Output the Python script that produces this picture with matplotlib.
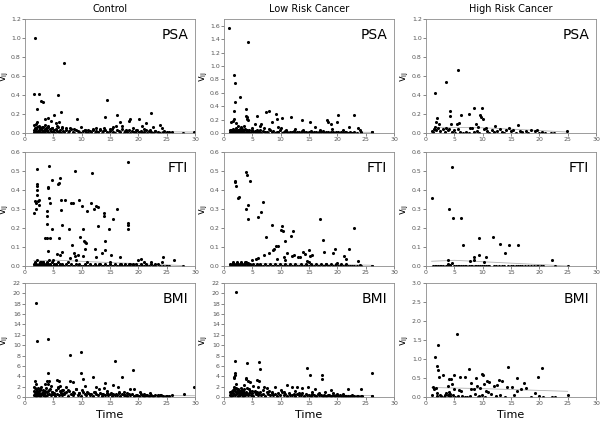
import numpy as np
import matplotlib
matplotlib.use("Agg")
import matplotlib.pyplot as plt

# visit times shared by the dense low band of each group
t_ctrl = [1.5, 1.6, 1.7, 1.8, 1.9, 2.0, 2.1, 2.2, 2.3, 2.4,
          2.5, 2.6, 2.7, 2.8, 2.9, 3.0, 3.1, 3.2, 3.4, 3.5,
          3.6, 3.7, 3.8, 3.9, 4.0, 4.1, 4.2, 4.4, 4.5, 4.7,
          4.9, 5.1, 5.3, 5.5, 5.7, 5.9, 6.0, 6.1, 6.3, 6.5,
          6.7, 6.9, 7.2, 7.5, 7.8, 8.1, 8.4, 8.7, 9.0, 9.3,
          9.6, 9.9, 10.2, 10.5, 10.8, 11.1, 11.4, 11.7, 12.0, 12.3,
          12.6, 12.9, 13.2, 13.5, 13.8, 14.1, 14.4, 14.7, 15.0, 15.3,
          15.6, 15.9, 16.2, 16.5, 16.8, 17.1, 17.4, 17.7, 18.0, 18.3,
          18.6, 18.9, 19.2, 19.5, 19.8, 20.1, 20.4, 20.7, 21.0, 21.3,
          21.6, 21.9, 22.2, 22.6, 23.0, 23.4, 23.8, 24.3, 24.8, 25.4]

ctrl_psa_band = [0.01, 0.03, 0.00, 0.05, 0.02, 0.04, 0.01, 0.06, 0.00, 0.03,
                 0.02, 0.05, 0.01, 0.04, 0.00, 0.03, 0.06, 0.01, 0.02, 0.04,
                 0.00, 0.05, 0.02, 0.03, 0.01, 0.07, 0.00, 0.04, 0.02, 0.05,
                 0.01, 0.03, 0.00, 0.04, 0.02, 0.06, 0.01, 0.03, 0.00, 0.05,
                 0.02, 0.01, 0.03, 0.00, 0.02, 0.04, 0.01, 0.00, 0.03, 0.02,
                 0.01, 0.00, 0.02, 0.03, 0.01, 0.00, 0.02, 0.01, 0.03, 0.00,
                 0.02, 0.01, 0.04, 0.00, 0.02, 0.03, 0.01, 0.00, 0.02, 0.04,
                 0.01, 0.00, 0.03, 0.02, 0.01, 0.04, 0.00, 0.02, 0.01, 0.03,
                 0.00, 0.02, 0.01, 0.00, 0.03, 0.01, 0.02, 0.00, 0.01, 0.03,
                 0.00, 0.02, 0.01, 0.00, 0.02, 0.01, 0.00, 0.01, 0.00, 0.01]

ctrl_fti_band = [0.00, 0.01, 0.00, 0.02, 0.00, 0.01, 0.00, 0.03, 0.00, 0.01,
                 0.00, 0.02, 0.00, 0.01, 0.00, 0.01, 0.02, 0.00, 0.01, 0.00,
                 0.00, 0.01, 0.00, 0.02, 0.00, 0.01, 0.00, 0.01, 0.00, 0.02,
                 0.00, 0.01, 0.00, 0.01, 0.00, 0.02, 0.00, 0.01, 0.00, 0.01,
                 0.00, 0.00, 0.01, 0.00, 0.00, 0.01, 0.00, 0.00, 0.01, 0.00,
                 0.01, 0.00, 0.00, 0.01, 0.00, 0.00, 0.01, 0.00, 0.00, 0.01,
                 0.00, 0.00, 0.01, 0.00, 0.00, 0.01, 0.00, 0.00, 0.01, 0.00,
                 0.00, 0.01, 0.00, 0.00, 0.01, 0.00, 0.00, 0.01, 0.00, 0.00,
                 0.01, 0.00, 0.00, 0.01, 0.00, 0.00, 0.01, 0.00, 0.00, 0.01,
                 0.00, 0.00, 0.01, 0.00, 0.00, 0.01, 0.00, 0.00, 0.00, 0.00]

ctrl_bmi_band = [0.3, 1.2, 0.6, 1.8, 0.2, 1.5, 0.9, 1.1, 0.4, 1.6,
                 0.7, 0.2, 1.3, 0.5, 1.9, 0.8, 0.3, 1.4, 0.6, 1.0,
                 0.2, 1.7, 0.9, 0.4, 2.5, 1.2, 0.6, 1.5, 0.3, 1.0,
                 0.5, 0.8, 0.2, 1.3, 0.6, 1.9, 0.4, 1.1, 0.7, 0.3,
                 1.4, 0.5, 0.9, 0.2, 1.2, 0.6, 0.3, 0.8, 1.5, 0.4,
                 0.7, 0.2, 1.0, 0.5, 0.3, 0.8, 0.4, 0.6, 0.2, 0.9,
                 0.5, 0.3, 0.7, 0.2, 0.6, 0.4, 0.8, 0.3, 0.5, 0.2,
                 0.6, 0.4, 0.3, 0.7, 0.2, 0.5, 0.3, 0.4, 0.2, 0.6,
                 0.3, 0.5, 0.2, 0.4, 0.3, 0.2, 0.5, 0.3, 0.2, 0.4,
                 0.3, 0.2, 0.3, 0.2, 0.4, 0.2, 0.3, 0.2, 0.1, 0.2]

t_low = [1.0, 1.1, 1.2, 1.3, 1.4, 1.5, 1.6, 1.7, 1.8, 1.9,
         2.0, 2.1, 2.2, 2.3, 2.4, 2.5, 2.6, 2.7, 2.8, 2.9,
         3.0, 3.1, 3.2, 3.3, 3.5, 3.6, 3.7, 3.8, 4.0, 4.1,
         4.2, 4.4, 4.6, 4.8, 5.0, 5.2, 5.4, 5.6, 5.8, 6.0,
         6.2, 6.4, 6.6, 6.9, 7.2, 7.5, 7.8, 8.1, 8.4, 8.7,
         9.0, 9.3, 9.6, 9.9, 10.2, 10.5, 10.8, 11.1, 11.4, 11.7,
         12.0, 12.3, 12.6, 12.9, 13.2, 13.5, 13.8, 14.1, 14.4, 14.7,
         15.0, 15.3, 15.6, 15.9, 16.2, 16.5, 16.8, 17.1, 17.4, 17.7,
         18.0, 18.3, 18.6, 18.9, 19.2, 19.5, 19.8, 20.1, 20.4, 20.7,
         21.0, 21.3, 21.6, 21.9, 22.2, 22.6, 23.0, 23.5, 24.1, 26.1]

low_psa_band = [0.02, 0.05, 0.01, 0.04, 0.00, 0.06, 0.03, 0.01, 0.05, 0.02,
                0.00, 0.04, 0.07, 0.01, 0.03, 0.05, 0.00, 0.02, 0.06, 0.01,
                0.04, 0.00, 0.03, 0.05, 0.01, 0.02, 0.06, 0.00, 0.04, 0.03,
                0.01, 0.05, 0.00, 0.02, 0.04, 0.01, 0.03, 0.00, 0.05, 0.02,
                0.01, 0.04, 0.00, 0.03, 0.01, 0.02, 0.00, 0.04, 0.01, 0.03,
                0.00, 0.02, 0.01, 0.04, 0.00, 0.02, 0.03, 0.01, 0.00, 0.02,
                0.01, 0.03, 0.00, 0.02, 0.01, 0.00, 0.03, 0.01, 0.02, 0.00,
                0.01, 0.03, 0.00, 0.02, 0.01, 0.00, 0.02, 0.01, 0.03, 0.00,
                0.02, 0.01, 0.00, 0.02, 0.01, 0.00, 0.01, 0.02, 0.00, 0.01,
                0.00, 0.02, 0.01, 0.00, 0.01, 0.00, 0.01, 0.00, 0.00, 0.01]

low_fti_band = [0.00, 0.01, 0.00, 0.00, 0.01, 0.00, 0.02, 0.00, 0.01, 0.00,
                0.00, 0.01, 0.00, 0.02, 0.00, 0.01, 0.00, 0.00, 0.01, 0.00,
                0.02, 0.00, 0.01, 0.00, 0.00, 0.01, 0.00, 0.02, 0.00, 0.01,
                0.00, 0.00, 0.01, 0.00, 0.00, 0.01, 0.00, 0.00, 0.01, 0.00,
                0.00, 0.01, 0.00, 0.00, 0.01, 0.00, 0.00, 0.01, 0.00, 0.00,
                0.01, 0.00, 0.00, 0.01, 0.00, 0.00, 0.01, 0.00, 0.00, 0.01,
                0.00, 0.00, 0.01, 0.00, 0.00, 0.01, 0.00, 0.00, 0.01, 0.00,
                0.00, 0.01, 0.00, 0.00, 0.01, 0.00, 0.00, 0.01, 0.00, 0.00,
                0.01, 0.00, 0.00, 0.01, 0.00, 0.00, 0.01, 0.00, 0.00, 0.01,
                0.00, 0.00, 0.01, 0.00, 0.00, 0.00, 0.00, 0.00, 0.00, 0.00]

low_bmi_band = [0.4, 0.9, 0.2, 0.7, 1.2, 0.3, 0.8, 1.6, 0.5, 1.1,
                0.3, 1.8, 0.6, 1.0, 0.2, 1.4, 0.7, 0.4, 1.2, 0.3,
                0.9, 0.5, 1.3, 0.2, 0.8, 1.5, 0.4, 1.0, 0.6, 1.7,
                0.3, 0.8, 1.2, 0.4, 0.7, 0.2, 1.1, 0.5, 0.9, 0.3,
                0.7, 1.0, 0.4, 0.6, 0.2, 0.9, 0.5, 0.3, 0.8, 0.4,
                0.6, 0.2, 0.7, 0.4, 0.9, 0.3, 0.5, 0.2, 0.7, 0.4,
                0.3, 0.6, 0.2, 0.5, 0.4, 0.3, 0.7, 0.2, 0.5, 0.3,
                0.4, 0.2, 0.6, 0.3, 0.2, 0.5, 0.3, 0.4, 0.2, 0.3,
                0.2, 0.4, 0.3, 0.2, 0.3, 0.2, 0.4, 0.2, 0.3, 0.2,
                0.1, 0.2, 0.1, 0.2, 0.1, 0.1, 0.2, 0.1, 0.1, 0.1]

# points standing clear of the band (time, value)
ctrl_psa_pts = [(1.8, 1.0), (6.8, 0.74), (1.5, 0.41), (2.5, 0.41), (5.8, 0.40), (2.8, 0.34),
                (3.2, 0.33), (14.5, 0.35), (2.2, 0.25), (6.3, 0.22), (22.2, 0.21), (16.3, 0.19),
                (5.2, 0.19), (4.1, 0.16), (3.6, 0.15), (14.1, 0.17), (9.2, 0.15), (18.6, 0.15),
                (18.3, 0.13), (20.2, 0.15), (21.4, 0.11), (16.8, 0.12), (2.1, 0.12), (4.5, 0.13),
                (5.4, 0.11), (6.0, 0.12), (23.8, 0.08), (24.1, 0.05), (26.0, 0.01), (27.9, 0.0),
                (29.8, 0.01), (1.6, 0.08), (2.0, 0.09), (2.4, 0.07), (3.0, 0.06), (3.5, 0.08),
                (4.0, 0.06), (4.8, 0.05), (5.6, 0.07), (6.5, 0.06), (7.2, 0.05), (8.0, 0.05),
                (8.6, 0.04), (9.8, 0.06), (10.5, 0.03), (11.2, 0.03), (12.0, 0.04), (12.6, 0.05),
                (13.3, 0.03), (14.0, 0.05), (15.0, 0.04), (15.6, 0.06), (16.0, 0.07), (17.2, 0.07),
                (17.8, 0.03), (19.0, 0.05), (19.5, 0.03), (20.6, 0.07), (21.0, 0.04), (22.0, 0.03),
                (22.5, 0.06), (23.0, 0.02), (24.5, 0.02), (25.0, 0.01)]

ctrl_fti_pts = [(1.5, 0.28), (1.8, 0.34), (1.9, 0.30), (2.0, 0.33), (2.1, 0.40), (2.1, 0.42),
                (2.1, 0.43), (2.2, 0.51), (2.2, 0.375), (2.3, 0.34), (2.5, 0.35), (2.4, 0.32),
                (3.5, 0.15), (3.8, 0.15), (3.9, 0.29), (3.9, 0.265), (3.9, 0.22), (4.0, 0.41),
                (4.1, 0.415), (4.2, 0.525), (4.3, 0.36), (4.4, 0.15), (4.4, 0.33), (4.7, 0.455),
                (4.7, 0.195), (4.0, 0.08), (4.2, 0.03), (5.6, 0.065), (5.9, 0.43), (6.0, 0.435),
                (6.2, 0.465), (6.0, 0.145), (6.3, 0.345), (6.4, 0.295), (6.5, 0.215), (6.6, 0.075),
                (6.2, 0.06), (7.0, 0.35), (7.8, 0.195), (8.0, 0.04), (8.2, 0.33), (8.4, 0.33),
                (8.3, 0.11), (8.6, 0.07), (8.8, 0.5), (8.9, 0.055), (9.3, 0.06), (9.6, 0.345),
                (9.7, 0.155), (10.0, 0.315), (10.3, 0.195), (10.4, 0.13), (10.5, 0.125), (10.8, 0.12),
                (10.5, 0.09), (10.2, 0.055), (11.0, 0.29), (11.8, 0.49), (11.6, 0.33), (12.1, 0.3),
                (12.4, 0.09), (12.5, 0.315), (12.6, 0.05), (12.8, 0.31), (12.9, 0.21), (13.6, 0.07),
                (13.9, 0.265), (14.0, 0.28), (14.2, 0.13), (14.2, 0.085), (14.8, 0.195), (15.5, 0.25),
                (15.2, 0.06), (16.3, 0.3), (16.8, 0.045), (18.1, 0.55), (18.2, 0.225), (18.2, 0.215),
                (18.2, 0.195), (18.3, 0.01), (20.0, 0.03), (20.4, 0.035), (22.3, 0.02), (24.4, 0.045),
                (24.1, 0.02), (26.3, 0.03), (27.9, 0.0), (2.8, 0.02), (3.1, 0.02), (5.0, 0.03),
                (7.5, 0.02), (9.0, 0.03), (11.0, 0.02), (13.0, 0.01), (15.0, 0.02), (17.0, 0.01),
                (19.0, 0.01), (21.0, 0.02), (23.0, 0.01), (25.0, 0.0)]

ctrl_bmi_pts = [(1.9, 18.2), (2.2, 10.9), (4.0, 11.1), (7.9, 8.2), (9.9, 8.6), (15.8, 7.0),
                (19.1, 5.3), (17.2, 3.9), (4.0, 4.7), (9.9, 4.6), (10.3, 3.5), (12.0, 3.8),
                (14.1, 2.7), (15.5, 2.3), (16.4, 1.9), (18.6, 1.5), (19.2, 1.5), (20.3, 1.0),
                (22.0, 0.8), (26.0, 0.4), (28.0, 0.5), (29.8, 1.9), (1.5, 2.0), (1.8, 3.1),
                (2.0, 2.5), (2.3, 1.8), (2.6, 1.6), (3.5, 2.5), (3.8, 3.0), (4.2, 3.0),
                (4.5, 2.2), (5.7, 3.2), (6.0, 3.0), (6.2, 2.2), (6.5, 1.4), (7.2, 1.9),
                (8.0, 3.0), (8.4, 2.9), (9.0, 1.5), (10.5, 2.2), (11.0, 1.0), (12.5, 1.9),
                (13.0, 1.6), (13.9, 1.8), (16.5, 1.0), (17.5, 1.0), (18.0, 0.8), (21.0, 0.5),
                (23.5, 0.4), (24.0, 0.3), (25.0, 0.2), (1.7, 1.0), (2.1, 0.8), (2.5, 1.2),
                (3.2, 0.9), (3.6, 1.1), (4.3, 1.4), (4.8, 0.9), (5.2, 0.6), (5.8, 1.8),
                (6.3, 1.1), (6.8, 0.7), (7.5, 1.3), (8.5, 0.9), (9.5, 0.8), (10.0, 1.3),
                (11.5, 0.6), (12.2, 0.9), (13.5, 0.6), (14.5, 1.2), (15.2, 0.7), (16.0, 0.5)]

low_psa_pts = [(0.9, 1.57), (4.3, 1.35), (1.8, 0.87), (1.9, 0.74), (2.0, 0.46), (2.8, 0.53),
               (1.7, 0.33), (3.8, 0.36), (3.9, 0.25), (4.0, 0.24), (4.1, 0.21), (4.2, 0.19),
               (1.2, 0.16), (1.5, 0.18), (1.8, 0.21), (2.2, 0.15), (5.9, 0.26), (7.4, 0.32),
               (7.9, 0.33), (9.1, 0.28), (9.4, 0.21), (10.2, 0.23), (11.8, 0.24), (8.5, 0.17),
               (13.8, 0.2), (15.1, 0.16), (18.1, 0.2), (18.4, 0.17), (18.8, 0.13), (20.2, 0.27),
               (20.0, 0.16), (23.0, 0.27), (22.0, 0.09), (23.6, 0.08), (24.0, 0.05), (24.1, 0.02),
               (26.1, 0.02), (3.0, 0.09), (3.5, 0.1), (5.0, 0.08), (6.3, 0.1), (7.0, 0.07),
               (8.0, 0.06), (10.0, 0.08), (11.0, 0.05), (12.5, 0.06), (14.0, 0.05), (16.0, 0.09),
               (17.0, 0.04), (19.0, 0.06), (21.0, 0.05), (5.5, 0.13), (6.5, 0.14), (9.5, 0.09),
               (2.5, 0.11), (3.2, 0.06)]

low_fti_pts = [(1.9, 0.445), (2.0, 0.44), (2.1, 0.42), (2.5, 0.36), (2.7, 0.365), (3.9, 0.495),
               (4.0, 0.48), (4.5, 0.445), (4.3, 0.32), (3.9, 0.3), (4.2, 0.245), (6.0, 0.26),
               (6.6, 0.285), (6.9, 0.335), (7.4, 0.155), (8.5, 0.215), (7.9, 0.07), (8.7, 0.085),
               (8.9, 0.09), (9.2, 0.105), (9.5, 0.105), (9.3, 0.035), (10.0, 0.19), (10.3, 0.21),
               (10.4, 0.185), (10.8, 0.13), (10.5, 0.045), (10.8, 0.03), (11.2, 0.07), (11.8, 0.16),
               (12.2, 0.185), (12.0, 0.055), (12.4, 0.06), (13.0, 0.045), (13.4, 0.045), (13.9, 0.075),
               (14.3, 0.065), (14.6, 0.025), (15.0, 0.085), (15.1, 0.055), (15.5, 0.06), (17.0, 0.25),
               (17.4, 0.135), (17.7, 0.075), (19.2, 0.07), (19.6, 0.09), (21.1, 0.055), (21.6, 0.035),
               (22.1, 0.09), (23.0, 0.2), (23.6, 0.025), (24.0, 0.005), (26.1, 0.0), (5.0, 0.03),
               (6.0, 0.04), (5.7, 0.035), (3.7, 0.02), (4.3, 0.015), (7.0, 0.06), (15.0, 0.02),
               (18.0, 0.01), (20.0, 0.015)]

low_bmi_pts = [(2.1, 20.2), (2.0, 7.0), (4.1, 6.6), (6.1, 6.8), (6.3, 5.5), (14.6, 5.6),
               (15.2, 4.3), (17.3, 4.2), (17.3, 3.5), (26.1, 4.7), (1.9, 4.6), (1.9, 4.2),
               (1.8, 3.8), (1.8, 3.6), (2.2, 2.5), (3.8, 3.7), (3.9, 3.4), (4.2, 3.1),
               (4.6, 2.9), (5.9, 3.3), (6.2, 3.0), (3.5, 2.3), (5.1, 2.2), (6.0, 2.0),
               (7.1, 2.0), (7.6, 1.8), (9.0, 1.9), (11.2, 2.3), (12.0, 2.0), (12.9, 1.9),
               (13.7, 1.8), (16.0, 1.5), (14.8, 2.0), (18.9, 1.3), (21.8, 1.6), (24.1, 1.5),
               (19.2, 0.8), (22.5, 0.3), (23.6, 0.1), (24.3, 0.1), (26.1, 0.1), (2.5, 1.5),
               (3.0, 1.8), (3.3, 1.2), (4.4, 1.6), (4.9, 1.2), (5.5, 1.0), (6.8, 1.3),
               (8.0, 1.1), (8.5, 0.9), (10.0, 1.4), (10.6, 0.9), (12.5, 1.1), (13.3, 0.8),
               (15.5, 0.9), (16.8, 0.7), (17.8, 0.9), (20.0, 0.6), (21.0, 0.5), (1.2, 0.9),
               (1.5, 1.4), (1.7, 2.0), (2.3, 1.1), (2.7, 0.8)]

high_psa_pts = [(1.5, 0.42), (3.6, 0.54), (5.7, 0.66), (4.2, 0.23), (4.3, 0.18), (6.2, 0.19),
                (7.6, 0.195), (8.5, 0.265), (9.9, 0.26), (9.5, 0.185), (9.7, 0.17), (10.0, 0.15),
                (1.7, 0.12), (2.0, 0.16), (2.3, 0.1), (4.4, 0.10), (5.4, 0.1), (5.8, 0.11),
                (12.2, 0.07), (14.6, 0.05), (16.2, 0.08), (8.8, 0.09), (9.2, 0.06), (10.5, 0.05),
                (13.0, 0.04), (1.0, 0.02), (1.2, 0.01), (1.4, 0.04), (1.6, 0.06), (1.8, 0.03),
                (2.1, 0.05), (2.5, 0.02), (3.0, 0.04), (3.3, 0.01), (3.6, 0.05), (3.9, 0.03),
                (4.1, 0.04), (4.6, 0.01), (4.9, 0.03), (5.2, 0.0), (5.6, 0.04), (6.0, 0.01),
                (6.5, 0.0), (7.0, 0.01), (7.5, 0.0), (7.8, 0.05), (8.1, 0.05), (8.4, 0.01),
                (9.0, 0.02), (9.4, 0.0), (10.2, 0.04), (10.8, 0.02), (11.2, 0.0), (11.6, 0.03),
                (12.0, 0.01), (12.6, 0.02), (13.4, 0.01), (13.8, 0.0), (14.2, 0.03), (15.0, 0.02),
                (15.4, 0.03), (15.8, 0.0), (16.5, 0.02), (17.0, 0.01), (17.6, 0.02), (18.0, 0.0),
                (18.6, 0.03), (19.2, 0.02), (19.6, 0.03), (20.0, 0.0), (20.4, 0.01), (21.0, 0.0),
                (22.0, 0.0), (22.6, 0.0), (24.9, 0.025)]

high_fti_pts = [(1.0, 0.36), (4.0, 0.30), (4.5, 0.52), (4.8, 0.255), (6.2, 0.255), (6.5, 0.11),
                (9.4, 0.15), (11.8, 0.155), (13.1, 0.115), (14.0, 0.07), (14.7, 0.11), (16.2, 0.11),
                (9.3, 0.06), (10.6, 0.045), (8.4, 0.045), (8.5, 0.03), (7.8, 0.025), (10.2, 0.02),
                (3.9, 0.03), (4.6, 0.015), (22.3, 0.03), (3.8, 0.01), (4.2, 0.005),
                (1.2, 0.0), (1.5, 0.0), (1.8, 0.0), (2.1, 0.0), (2.4, 0.0), (2.7, 0.0), (3.0, 0.0),
                (3.5, 0.0), (3.8, 0.0), (4.3, 0.0), (5.0, 0.0), (5.3, 0.0), (5.6, 0.0), (5.9, 0.0),
                (6.2, 0.0), (6.5, 0.0), (6.8, 0.0), (7.1, 0.0), (7.5, 0.0), (7.9, 0.0), (8.2, 0.0),
                (8.6, 0.0), (8.9, 0.0), (9.2, 0.0), (9.6, 0.0), (9.9, 0.0), (10.3, 0.0), (10.6, 0.0),
                (10.9, 0.0), (11.2, 0.0), (12.0, 0.0), (12.4, 0.0), (12.8, 0.0), (13.4, 0.0),
                (13.8, 0.0), (14.4, 0.0), (15.0, 0.0), (15.4, 0.0), (15.8, 0.0), (16.2, 0.0),
                (16.6, 0.0), (17.0, 0.0), (17.5, 0.0), (18.0, 0.0), (18.5, 0.0), (19.0, 0.0),
                (19.5, 0.0), (19.8, 0.0), (20.3, 0.0), (20.7, 0.0), (22.8, 0.0), (25.0, 0.0)]

high_bmi_pts = [(5.4, 1.65), (2.1, 1.37), (1.5, 1.04), (2.0, 0.82), (2.2, 0.72), (2.3, 0.53),
                (3.0, 0.58), (7.6, 0.74), (14.5, 0.79), (20.5, 0.76), (19.8, 0.52), (4.1, 0.47),
                (4.4, 0.48), (4.9, 0.57), (6.0, 0.52), (6.8, 0.52), (8.8, 0.49), (9.8, 0.6),
                (10.1, 0.59), (10.8, 0.42), (11.2, 0.4), (12.9, 0.44), (13.4, 0.42), (16.1, 0.49),
                (17.3, 0.37), (16.8, 0.2), (17.7, 0.25), (12.0, 0.3), (12.5, 0.32), (15.2, 0.27),
                (14.3, 0.26), (8.0, 0.37), (8.4, 0.21), (9.0, 0.3), (9.6, 0.25), (10.3, 0.35),
                (10.6, 0.15), (11.0, 0.12), (7.9, 0.2), (6.2, 0.15), (5.8, 0.18), (5.0, 0.2),
                (4.6, 0.35), (3.6, 0.1), (3.9, 0.28), (1.0, 0.05), (1.2, 0.27), (1.4, 0.2),
                (1.7, 0.25), (1.9, 0.1), (2.0, 0.03), (2.4, 0.05), (2.6, 0.02), (3.1, 0.0),
                (3.4, 0.04), (3.8, 0.06), (4.0, 0.12), (4.2, 0.02), (4.3, 0.07), (4.7, 0.05),
                (5.2, 0.0), (5.6, 0.03), (6.4, 0.03), (6.9, 0.01), (7.3, 0.0), (7.7, 0.02),
                (8.6, 0.08), (9.2, 0.0), (9.4, 0.03), (9.9, 0.05), (10.4, 0.0), (11.4, 0.08),
                (12.3, 0.02), (13.0, 0.05), (14.0, 0.0), (15.6, 0.05), (16.0, 0.15), (18.5, 0.0),
                (19.3, 0.1), (20.0, 0.03), (20.7, 0.0), (22.3, 0.0), (22.8, 0.0), (25.0, 0.05)]

# smoothed trend lines (time, value)
ctrl_psa_trend = [(1.5, 0.025), (10, 0.02), (20, 0.015), (30, 0.01)]
ctrl_fti_trend = [(1.5, 0.028), (6, 0.03), (15, 0.018), (25, 0.006), (28, 0.002)]
ctrl_bmi_trend = [(1.5, 0.6), (10, 0.45), (20, 0.3), (30, 0.25)]
low_psa_trend = [(1.0, 0.03), (10, 0.02), (20, 0.012), (26, 0.01)]
low_fti_trend = [(1.0, 0.004), (6, 0.012), (15, 0.01), (26, 0.004)]
low_bmi_trend = [(1.0, 0.5), (10, 0.4), (26, 0.3)]
high_psa_trend = [(1.5, 0.06), (10, 0.055), (17, 0.035), (25, 0.01)]
high_fti_trend = [(1.0, 0.025), (5, 0.03), (15, 0.015), (25, 0.0)]
high_bmi_trend = [(1.0, 0.25), (10, 0.22), (25, 0.15)]

groups = ["Control", "Low Risk Cancer", "High Risk Cancer"]
markers = ["PSA", "FTI", "BMI"]

panels = {
    (0, 0): (t_ctrl, ctrl_psa_band, ctrl_psa_pts, ctrl_psa_trend),
    (0, 1): (t_low, low_psa_band, low_psa_pts, low_psa_trend),
    (0, 2): ([], [], high_psa_pts, high_psa_trend),
    (1, 0): (t_ctrl, ctrl_fti_band, ctrl_fti_pts, ctrl_fti_trend),
    (1, 1): (t_low, low_fti_band, low_fti_pts, low_fti_trend),
    (1, 2): ([], [], high_fti_pts, high_fti_trend),
    (2, 0): (t_ctrl, ctrl_bmi_band, ctrl_bmi_pts, ctrl_bmi_trend),
    (2, 1): (t_low, low_bmi_band, low_bmi_pts, low_bmi_trend),
    (2, 2): ([], [], high_bmi_pts, high_bmi_trend),
}

# y axis: (top limit, tick step, label format)
yaxes = {
    (0, 0): (1.2, 0.2, "%.1f"), (0, 1): (1.7, 0.2, "%.1f"), (0, 2): (1.2, 0.2, "%.1f"),
    (1, 0): (0.6, 0.1, "%.1f"), (1, 1): (0.6, 0.1, "%.1f"), (1, 2): (0.6, 0.1, "%.1f"),
    (2, 0): (22, 2, "%d"), (2, 1): (22, 2, "%d"), (2, 2): (3.0, 0.5, "%.1f"),
}

fig = plt.figure(figsize=(6.0, 4.26), dpi=100)
W, H = 600, 426
lefts = [25, 224, 426]
tops = [19, 152, 283]
label_x = [11, 210, 411]   # pixel of the right edge of the y label in each column
aw, ah = 170, 114
grey = "#8c8c8c"

for (r, c), (tb, vb, pts, trend) in panels.items():
    ax = fig.add_axes([lefts[c] / W, 1 - (tops[r] + ah) / H, aw / W, ah / H])
    pts = np.array(pts)
    tr = np.array(trend)
    ax.plot(tr[:, 0], tr[:, 1], color="#b0b0b0", lw=0.6, zorder=1)
    if len(tb):
        ax.scatter(tb, vb, s=5, c="black", linewidths=0, zorder=2)
    ax.scatter(pts[:, 0], pts[:, 1], s=5, c="black", linewidths=0, zorder=2)

    top, step, fmt = yaxes[(r, c)]
    ax.set_xlim(0, 30)
    ax.set_ylim(0, top)
    ax.set_xticks(np.arange(0, 31, 5))
    yt = np.arange(0, top + 1e-9, step)
    ax.set_yticks(yt)
    ax.set_yticklabels([fmt % v for v in yt])
    ax.tick_params(labelsize=4.5, length=2, width=0.5, colors="#555555", pad=1)
    for s in ax.spines.values():
        s.set_color(grey)
        s.set_linewidth(0.6)
    ax.set_ylabel(r"v$_{\rm ij}$", fontsize=7)
    ax.yaxis.set_label_coords((label_x[c] - lefts[c]) / aw, 0.5)
    ax.text(0.96, 0.92, markers[r], transform=ax.transAxes, ha="right", va="top", fontsize=10)
    if r == 0:
        ax.set_title(groups[c], fontsize=7, pad=5)
    if r == 2:
        ax.set_xlabel("Time", fontsize=8, labelpad=3)

fig.savefig("out.png", dpi=100)
